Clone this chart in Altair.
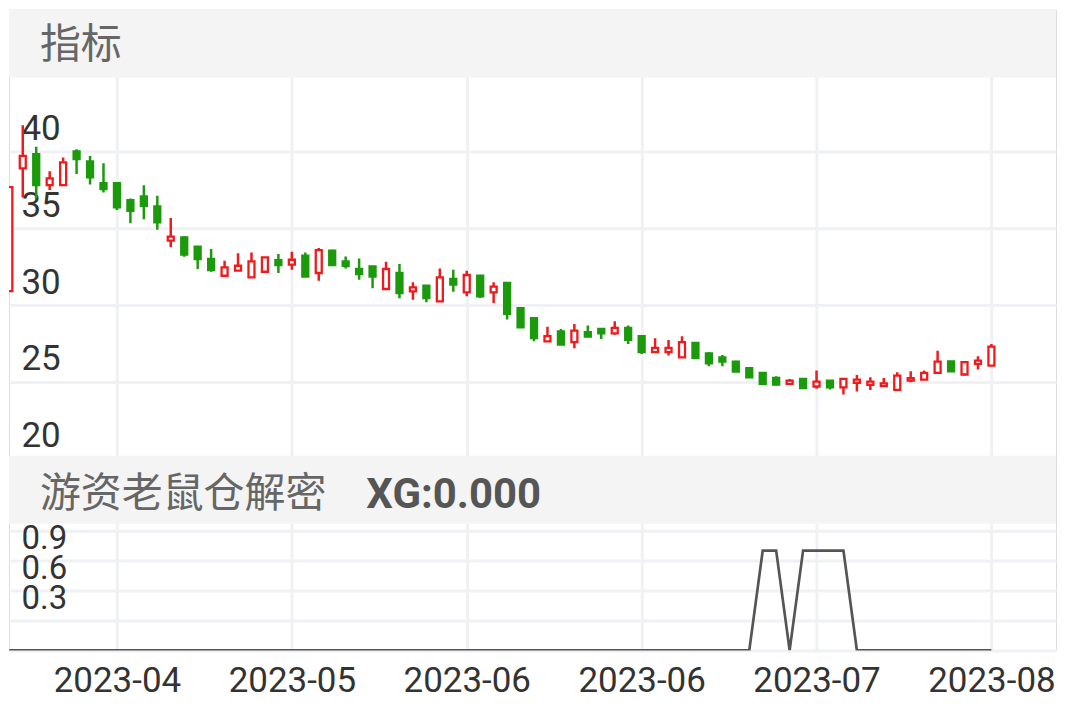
import json
import altair as alt
import pandas as pd

# ---------------- data ----------------
idx = list(range(-1, 73))
opens = [30.90, 38.88, 39.80, 37.79, 37.79, 39.98, 39.33, 37.92, 37.92, 36.82,
         37.06, 36.41, 34.18, 34.40, 33.79, 32.99, 31.90, 32.23, 31.80, 32.16,
         32.92, 32.62, 33.20, 32.08, 33.53, 32.84, 32.34, 32.51, 31.04, 32.08,
         30.89, 31.25, 30.24, 31.69, 30.82, 31.90, 30.82, 31.43, 29.79, 29.14,
         27.64, 28.29, 27.58, 28.23, 28.44, 28.16, 28.51, 27.97, 26.93, 26.93,
         26.60, 27.53, 26.86, 26.60, 26.32, 25.89, 25.58, 25.26, 24.87, 25.19,
         24.70, 25.08, 24.65, 24.94, 24.81, 24.72, 24.48, 25.08, 25.15, 25.58,
         26.34, 25.48, 26.17, 26.06]
highs = [37.66, 41.69, 40.28, 38.70, 39.59, 40.13, 39.69, 39.22, 37.92, 36.93,
         37.79, 37.10, 35.65, 34.48, 33.79, 33.64, 32.88, 33.36, 33.42, 33.10,
         33.31, 33.46, 33.42, 33.70, 33.59, 33.16, 33.03, 32.51, 32.81, 32.66,
         31.47, 31.25, 32.38, 32.29, 32.23, 31.90, 31.47, 31.43, 29.79, 29.14,
         28.59, 28.44, 28.77, 28.66, 28.44, 28.94, 28.66, 27.97, 27.84, 27.73,
         27.97, 27.53, 26.93, 26.75, 26.38, 25.89, 25.58, 25.37, 25.19, 25.19,
         25.74, 25.08, 25.19, 25.45, 25.30, 25.26, 25.63, 25.69, 25.74, 27.03,
         26.34, 26.32, 26.67, 27.47]
lows = [30.90, 36.99, 36.93, 37.47, 37.75, 38.51, 37.84, 37.32, 36.17, 35.32,
        35.58, 34.89, 33.75, 33.14, 32.34, 32.16, 31.84, 32.23, 31.80, 32.08,
        32.08, 32.29, 31.84, 31.58, 32.60, 32.38, 31.64, 31.08, 31.00, 30.44,
        30.34, 30.18, 30.24, 30.86, 30.56, 30.45, 30.13, 29.05, 28.55, 27.64,
        27.64, 27.42, 27.19, 27.90, 27.79, 28.07, 27.47, 26.82, 26.93, 26.71,
        26.60, 26.56, 26.02, 26.02, 25.67, 25.30, 24.87, 24.76, 24.81, 24.59,
        24.55, 24.50, 24.18, 24.37, 24.48, 24.72, 24.44, 24.98, 25.15, 25.52,
        25.69, 25.41, 25.80, 26.06]
closes = [37.66, 39.69, 37.79, 38.23, 39.27, 39.48, 38.29, 37.53, 36.34, 36.12,
          36.45, 35.37, 34.44, 33.27, 32.99, 32.27, 32.45, 32.55, 32.84, 33.10,
          32.60, 32.94, 31.84, 33.57, 32.60, 32.55, 32.01, 31.84, 32.34, 30.78,
          31.15, 30.45, 31.80, 31.32, 31.95, 30.56, 31.19, 29.42, 28.55, 27.84,
          27.97, 27.42, 28.33, 27.94, 28.16, 28.51, 27.73, 26.93, 27.21, 27.21,
          27.58, 26.56, 26.21, 26.32, 25.67, 25.30, 24.87, 24.82, 25.08, 24.59,
          25.02, 24.65, 25.19, 25.15, 25.02, 24.91, 25.41, 25.24, 25.58, 26.32,
          25.69, 26.28, 26.38, 27.29]
xg = [0, 0, 0, 0, 0, 0, 0, 0, 0, 0,
      0, 0, 0, 0, 0, 0, 0, 0, 0, 0,
      0, 0, 0, 0, 0, 0, 0, 0, 0, 0,
      0, 0, 0, 0, 0, 0, 0, 0, 0, 0,
      0, 0, 0, 0, 0, 0, 0, 0, 0, 0,
      0, 0, 0, 0, 0, 0, 1, 1, 0, 1,
      1, 1, 1, 0, 0, 0, 0, 0, 0, 0,
      0, 0, 0, 0]

tick_idx = [7, 20, 33, 46, 59, 72]
tick_labels = ["2023-04", "2023-05", "2023-06", "2023-06", "2023-07", "2023-08"]
price_ticks = [20, 25, 30, 35, 40]
xg_ticks = [0, 0.3, 0.6, 0.9, 1.2]
panel_titles = ["指标", "游资老鼠仓解密"]
xg_title = ["XG:0.000"]

# ---------------- style ----------------
W = 1049
RED = "#f01a1d"
GREEN = "#1b9a0c"
GRID = "#f0f1f4"
BAND = "#f4f4f4"
X_DOM = [-1.024, 76.80]

df = pd.DataFrame({"i": idx, "o": opens, "h": highs, "l": lows, "c": closes, "xg": xg})
df["dir"] = ["up" if c >= o else "down" for o, c in zip(df.o, df.c)]

xs = alt.Scale(domain=X_DOM, nice=False, zero=False, padding=0)

# ---------------- top panel ----------------
ys = alt.Scale(domain=[20, 49.2], nice=False, zero=False)
x_top = alt.X("i:Q", scale=xs, title=None,
              axis=alt.Axis(values=tick_idx, labels=False, ticks=False, tickSize=0,
                            domain=False, grid=True, gridColor=GRID, gridWidth=3,
                            minExtent=0, maxExtent=0, labelPadding=0))
y_top_axis = alt.Axis(values=price_ticks, labelAlign="left", labelPadding=-12, tickSize=0,
                      ticks=False, domain=False, grid=True, gridColor=GRID, gridWidth=3,
                      labelFontSize=35, labelColor="#333333", labelFont="Roboto",
                      labelBaseline="alphabetic", labelOffset=-12, labelOverlap=False)
stroke_enc = alt.Stroke("dir:N", scale=alt.Scale(domain=["up", "down"], range=[RED, GREEN]),
                        legend=None)
fill_enc = alt.Fill("dir:N", scale=alt.Scale(domain=["up", "down"], range=["#ffffff", GREEN]),
                    legend=None)

base = alt.Chart(df)
wicks = base.mark_rule(strokeWidth=2.5, clip=True).encode(
    x=x_top,
    y=alt.Y("l:Q", scale=ys, axis=y_top_axis, title=None),
    y2="h:Q",
    stroke=stroke_enc,
)
bodies = base.mark_bar(size=6, strokeWidth=2.3, clip=True).encode(
    x="i:Q", y="o:Q", y2="c:Q", fill=fill_enc, stroke=stroke_enc,
)
band1 = alt.Chart(pd.DataFrame({"t": [panel_titles[0]]})).mark_rect(color=BAND).encode(
    x=alt.value(0), x2=alt.value(W), y=alt.value(0), y2=alt.value(68))
title1 = alt.Chart(pd.DataFrame({"t": [panel_titles[0]]})).mark_text(
    align="left", baseline="middle", fontSize=41, font="Noto Sans CJK SC", color="#666666"
).encode(x=alt.value(31), y=alt.value(36), text="t:N")

top = alt.layer(wicks, bodies, band1, title1).properties(width=W, height=450)

# ---------------- bottom panel ----------------
ys2 = alt.Scale(domain=[0, 1.92], nice=False, zero=False)
label_expr = "%s[indexof(%s, datum.value)]" % (json.dumps(tick_labels), json.dumps(tick_idx))
x_bot = alt.X("i:Q", scale=xs, title=None,
              axis=alt.Axis(values=tick_idx, labelExpr=label_expr, ticks=False, tickSize=0,
                            domain=False, grid=True, gridColor=GRID, gridWidth=3,
                            labelFontSize=35, labelColor="#333333", labelFont="Roboto",
                            labelPadding=13, labelFlush=False, labelOverlap=False))
y_bot_axis = alt.Axis(values=xg_ticks,
                      labelExpr="datum.value > 0.1 && datum.value < 1 ? format(datum.value, '.1f') : ''",
                      labelAlign="left", labelPadding=-12, tickSize=0, ticks=False, domain=False,
                      grid=True, gridColor=GRID, gridWidth=3, labelFontSize=33,
                      labelColor="#333333", labelFont="Roboto", labelBaseline="alphabetic",
                      labelOffset=-12, labelOverlap=False)
xg_line = base.mark_line(color="#555555", strokeWidth=2.7, clip=True).encode(
    x=x_bot, y=alt.Y("xg:Q", scale=ys2, axis=y_bot_axis, title=None))
band2 = alt.Chart(pd.DataFrame({"t": [panel_titles[1]]})).mark_rect(color=BAND).encode(
    x=alt.value(0), x2=alt.value(W), y=alt.value(-3), y2=alt.value(65))
title2 = alt.Chart(pd.DataFrame({"t": [panel_titles[1]]})).mark_text(
    align="left", baseline="middle", fontSize=41, font="Noto Sans CJK SC", color="#666666"
).encode(x=alt.value(31), y=alt.value(36), text="t:N")
title3 = alt.Chart(pd.DataFrame({"t": xg_title})).mark_text(
    align="left", baseline="middle", fontSize=42, font="Roboto", fontWeight="bold",
    color="#555555"
).encode(x=alt.value(358), y=alt.value(36), text="t:N")

bottom = alt.layer(xg_line, band2, title2, title3).properties(width=W, height=192)

chart = alt.vconcat(top, bottom, spacing=0, bounds="flush").resolve_scale(
    x="independent", y="independent", stroke="independent"
).properties(
    padding={"left": 0, "right": 0, "top": 0, "bottom": 0}
).configure_view(strokeWidth=0).configure(background="#ffffff")

chart.save("out.html", embed_options={"renderer": "svg", "actions": False})
